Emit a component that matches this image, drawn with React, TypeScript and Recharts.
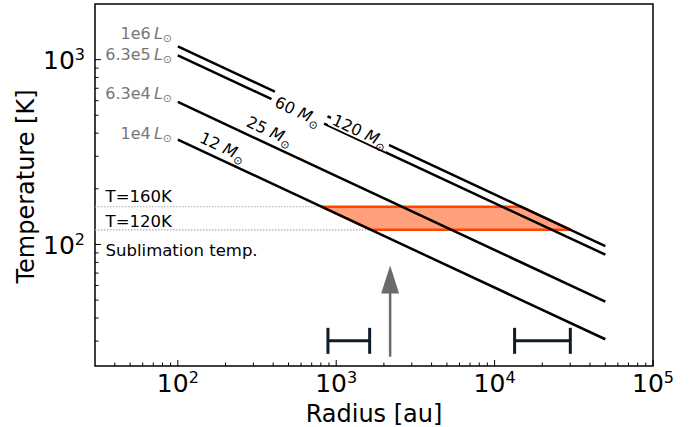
import {
  Area,
  ComposedChart,
  ErrorBar,
  Label,
  Line,
  ReferenceArea,
  ReferenceDot,
  Scatter,
  XAxis,
  YAxis,
} from 'recharts';

const FONT = '"DejaVu Sans", sans-serif';

// model curves: T(r) from r = 100 au out to r = 5e4 au
const radiusEnds = [100, 50000];
const lumLabels = ['1e6', '6.3e5', '6.3e4', '1e4'];
const massLabels = ['120', '60', '25', '12'];
const tempInner = [1180, 1055, 590, 369];
const tempOuter = [98, 88, 49, 30.7];

// sublimation band, 120-160 K, cut by the 1e4 and 1e6 curves
const bandRadius = [808, 1658, 14770, 30320];
const bandLow = [160, 120, 120, 120];
const bandHigh = [160, 160, 160, 120];
const sublimationTemps = [160, 120];
const sublimationEnds = [808, 1658];

// radius ranges near the bottom
const errCenters = [1200, 20000];
const errLow = [313, 6630];
const errHigh = [426, 10060];
const errTemp = 30.1;

// arrow
const arrowRadius = 2190;
const arrowFrom = 24.7;
const arrowHeadBase = 56;
const arrowTip = 77;

// annotation anchors (data coords)
const lumLabelR = 92;
const lumLabelT = [1300, 1000, 610, 373];
const massLabelR = [1413, 572, 380, 192];
const massLabelT = [409, 525, 411, 337];
const noteR = 35;
const noteTexts = ['T=160K', 'T=120K', 'Sublimation temp.'];
const noteT = [170, 124.5, 86.5];

const xMajor = [100, 1000, 10000, 100000];
const xMinor = [40, 50, 60, 70, 80, 90, 200, 300, 400, 500, 600, 700, 800, 900, 2000, 3000, 4000, 5000, 6000, 7000, 8000, 9000, 20000, 30000, 40000, 50000, 60000, 70000, 80000, 90000];
const yMajor = [100, 1000];
const yMinor = [30, 40, 50, 60, 70, 80, 90, 200, 300, 400, 500, 600, 700, 800, 900];

const curves = tempInner.map((t0, i) =>
  radiusEnds.map((r, j) => ({ r, T: j === 0 ? t0 : tempOuter[i] })),
);
const bandData = bandRadius.map((r, i) => ({ r, band: [bandLow[i], bandHigh[i]] }));
const dotted = sublimationTemps.map((T, i) => [
  { r: 30, T },
  { r: sublimationEnds[i], T },
]);
const errData = errCenters.map((r, i) => ({ r, T: errTemp, err: [errLow[i], errHigh[i]] }));
const arrowShaft = [
  { r: arrowRadius, T: arrowFrom },
  { r: arrowRadius, T: arrowHeadBase },
];

const isMajor = (v: number) => Math.abs(Math.log10(v) - Math.round(Math.log10(v))) < 1e-6;

function XTick(props: any) {
  const { x, y, payload } = props;
  const v = payload.value;
  const major = isMajor(v);
  return (
    <g>
      <line x1={x} x2={x} y1={y} y2={y - (major ? 6 : 3.5)} stroke="#000" strokeWidth={1} />
      {major && (
        <text x={x} y={y + 25.5} textAnchor="middle" fontSize={25} fontFamily={FONT} fill="#000">
          10
          <tspan dy={-9} fontSize={16}>
            {Math.round(Math.log10(v))}
          </tspan>
        </text>
      )}
    </g>
  );
}

function YTick(props: any) {
  const { x, y, payload } = props;
  const v = payload.value;
  const major = isMajor(v);
  return (
    <g>
      <line x1={x} x2={x + (major ? 6 : 3.5)} y1={y} y2={y} stroke="#000" strokeWidth={1} />
      {major && (
        <text x={x - 10} y={y + 9.5} textAnchor="end" fontSize={25} fontFamily={FONT} fill="#000">
          10
          <tspan dy={-9} fontSize={16}>
            {Math.round(Math.log10(v))}
          </tspan>
        </text>
      )}
    </g>
  );
}

const lumShape = (label: string) => (p: any) => (
  <text x={p.cx} y={p.cy} textAnchor="end" fontSize={16} fontFamily={FONT} fill="#777">
    {label}
    {'\u2009'}
    <tspan fontStyle="italic">L</tspan>
    <tspan fontSize={11} dy={3}>
      ⊙
    </tspan>
  </text>
);

// white box only where the label sits on the lines
const massShape = (label: string, box: null | [number, number, number]) => (p: any) => (
  <g transform={`translate(${p.cx},${p.cy}) rotate(25)`}>
    {box && <rect x={-box[0] / 2} y={box[1]} width={box[0]} height={box[2]} fill="#fff" />}
    <text x={0} y={5.5} textAnchor="middle" fontSize={16} fontFamily={FONT} fill="#000">
      {label}{' '}
      <tspan fontStyle="italic">M</tspan>
      <tspan fontSize={11} dy={4}>
        ⊙
      </tspan>
    </text>
  </g>
);
const massBoxes: (null | [number, number, number])[] = [
  [64, -10.5, 18],
  [58, -10.5, 21],
  null,
  null,
];

const noteShape = (label: string) => (p: any) => (
  <text x={p.cx} y={p.cy} fontSize={16.5} fontFamily={FONT} fill="#000">
    {label}
  </text>
);

const arrowHead = (p: any) => (
  <polygon
    points={`${p.cx},${p.cy} ${p.cx - 9},${p.cy + 28} ${p.cx + 9},${p.cy + 28}`}
    fill="#6b6b6b"
  />
);

export default function App() {
  return (
    <div style={{ position: 'absolute', left: 0, top: 0, background: '#fff' }}>
      <ComposedChart
        width={699}
        height={427}
        margin={{ top: 4, right: 46, left: 0, bottom: 0 }}
        style={{ fontFamily: FONT }}
      >
        <XAxis
          dataKey="r"
          type="number"
          scale="log"
          domain={[30, 100000]}
          allowDataOverflow
          ticks={[...xMajor, ...xMinor]}
          interval={0}
          tickSize={0}
          tickMargin={0}
          axisLine={false}
          tickLine={false}
          tick={<XTick />}
          height={61}
        >
          <Label
            content={(p: any) => (
              <text
                x={p.viewBox.x + p.viewBox.width / 2}
                y={p.viewBox.y + 55.5}
                textAnchor="middle"
                fontSize={24}
                fontFamily={FONT}
                fill="#000"
              >
                Radius [au]
              </text>
            )}
          />
        </XAxis>
        <YAxis
          type="number"
          scale="log"
          domain={[22, 2000]}
          allowDataOverflow
          ticks={[...yMajor, ...yMinor]}
          interval={0}
          tickSize={0}
          tickMargin={0}
          axisLine={false}
          tickLine={false}
          tick={<YTick />}
          width={95}
        >
          <Label
            content={(p: any) => {
              const cx = p.viewBox.x + 34;
              const cy = p.viewBox.y + p.viewBox.height / 2 + 1.5;
              return (
                <text
                  x={cx}
                  y={cy}
                  transform={`rotate(-90, ${cx}, ${cy})`}
                  textAnchor="middle"
                  fontSize={24}
                  fontFamily={FONT}
                  fill="#000"
                >
                  Temperature [K]
                </text>
              );
            }}
          />
        </YAxis>

        <Area
          data={bandData}
          dataKey="band"
          type="linear"
          fill="#ffa07a"
          fillOpacity={1}
          stroke="#ff4500"
          strokeWidth={2.5}
          isAnimationActive={false}
        />
        {dotted.map((d, i) => (
          <Line
            key={`dot-${i}`}
            data={d}
            dataKey="T"
            type="linear"
            stroke="#aaa"
            strokeWidth={1.2}
            strokeDasharray="1.5 1.5"
            dot={false}
            isAnimationActive={false}
          />
        ))}
        {curves.map((d, i) => (
          <Line
            key={`curve-${i}`}
            data={d}
            dataKey="T"
            type="linear"
            stroke="#000"
            strokeWidth={2.5}
            dot={false}
            isAnimationActive={false}
          />
        ))}
        <Line
          data={arrowShaft}
          dataKey="T"
          type="linear"
          stroke="#6b6b6b"
          strokeWidth={2.5}
          dot={false}
          isAnimationActive={false}
        />
        <Scatter data={errData} dataKey="T" shape={() => <g />} isAnimationActive={false}>
          <ErrorBar dataKey="err" direction="x" width={13} stroke="#0d1b2a" strokeWidth={3} />
        </Scatter>

        <ReferenceDot x={arrowRadius} y={arrowTip} r={0} shape={arrowHead} />
        {lumLabels.map((l, i) => (
          <ReferenceDot key={`lum-${i}`} x={lumLabelR} y={lumLabelT[i]} r={0} shape={lumShape(l)} />
        ))}
        {massLabels.map((m, i) => (
          <ReferenceDot
            key={`mass-${i}`}
            x={massLabelR[i]}
            y={massLabelT[i]}
            r={0}
            shape={massShape(m, massBoxes[i])}
          />
        ))}
        {noteTexts.map((t, i) => (
          <ReferenceDot key={`note-${i}`} x={noteR} y={noteT[i]} r={0} shape={noteShape(t)} />
        ))}
        <ReferenceArea
          x1={30}
          x2={100000}
          y1={22}
          y2={2000}
          fill="none"
          stroke="#000"
          strokeWidth={1.5}
          ifOverflow="visible"
        />
      </ComposedChart>
    </div>
  );
}
